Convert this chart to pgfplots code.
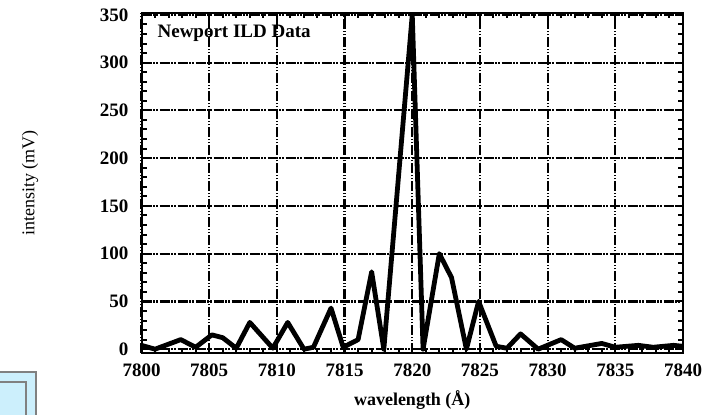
\documentclass[border=0pt]{standalone}
\usepackage{fontspec}
\setmainfont{Liberation Serif}
\usepackage{pgfplots}
\pgfplotsset{compat=1.18}

\begin{document}
\begin{tikzpicture}
\useasboundingbox (0,0) rectangle (352pt,207.5pt);
% light cyan box at the bottom left corner
\fill[cyan!20] (-2pt,-2pt) rectangle (18pt,21.5pt);
\draw[gray, line width=1.1pt] (-2pt,21.5pt) -- (18pt,21.5pt) -- (18pt,-2pt);
\draw[gray, line width=1.1pt] (-2pt,16.5pt) -- (13pt,16.5pt) -- (13pt,-2pt);

\begin{axis}[
  at={(70.75pt,31pt)}, anchor=south west,
  scale only axis, width=270.75pt, height=170pt,
  xmin=7800, xmax=7840, ymin=-4, ymax=352,
  xtick={7800,7805,...,7840}, ytick={0,50,...,350},
  minor x tick num=4, minor y tick num=4,
  tick align=inside, major tick length=3pt, minor tick length=2.5pt,
  every tick/.style={black, line width=1pt},
  axis line style={line width=1pt},
  grid=major,
  major grid style={black, line width=1.1pt, dash pattern=on 5pt off 0.8pt on 0.8pt off 0.8pt on 0.8pt off 0.8pt},
  /pgf/number format/assume math mode=true,
  /pgf/number format/1000 sep={},
  tick label style={font=\bfseries\fontsize{9.5}{10}\selectfont},
  xticklabel style={yshift=-2pt},
  yticklabel style={xshift=-3pt},
  xlabel={\textbf{wavelength (Å)}},
  ylabel={intensity (mV)},
  label style={font=\fontsize{9}{10}\selectfont},
  xlabel style={at={(axis description cs:0.5,-0.138)}, anchor=center},
  ylabel style={at={(axis description cs:-0.206,0.5)}, anchor=center},
]
\addplot[black, line width=2.4pt, line join=round] coordinates {
(7800,4) (7801,0) (7802.9,10) (7804,2) (7805.2,15) (7806,12) (7807,1)
(7808,28) (7809.7,1) (7810.8,28) (7812,0) (7812.7,2) (7814,43) (7814.9,2)
(7816,10) (7817,81) (7817.9,0) (7820,350) (7820.8,0) (7822,100) (7822.9,75)
(7824,0) (7824.9,50) (7826.2,3) (7827,1) (7828,16) (7829.3,0) (7831,10)
(7832,1) (7834,6) (7835,2) (7836.7,4) (7837.8,2) (7839.3,4) (7840,3)
};
\node[anchor=west, inner sep=0pt, font=\bfseries\fontsize{9.5}{10}\selectfont] at (axis description cs:0.029,0.941) {Newport ILD Data};
\end{axis}
\end{tikzpicture}
\end{document}
